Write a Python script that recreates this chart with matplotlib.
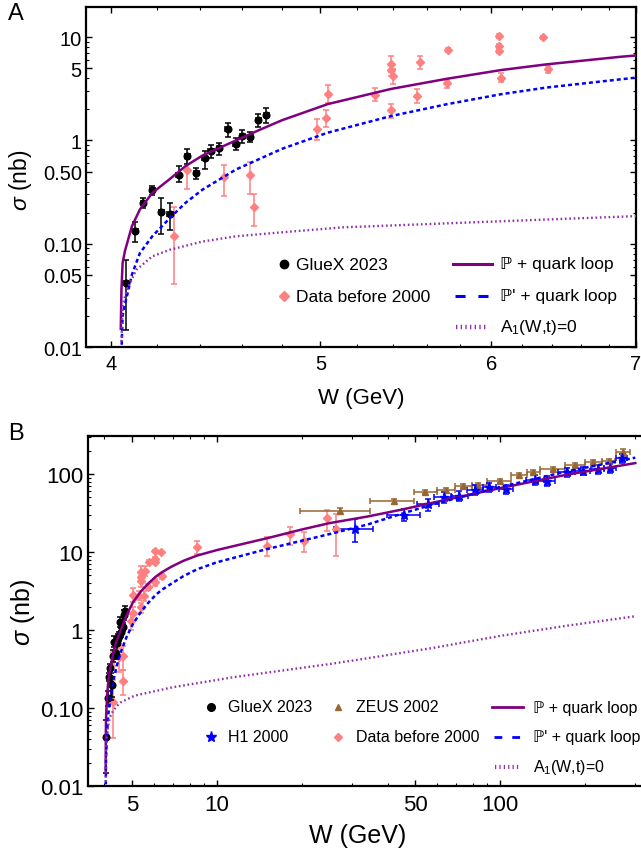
import matplotlib
matplotlib.use('Agg')
import matplotlib.pyplot as plt
from matplotlib.lines import Line2D
from matplotlib.ticker import FixedLocator, NullFormatter, FixedFormatter

plt.rcParams['font.family'] = ['Liberation Sans', 'DejaVu Sans']
plt.rcParams['mathtext.fontset'] = 'custom'
plt.rcParams['mathtext.rm'] = 'Liberation Sans'
plt.rcParams['mathtext.it'] = 'Liberation Sans:italic'
plt.rcParams['mathtext.bf'] = 'Liberation Sans:bold'

# ---------------- data ----------------
# GlueX 2023
glx_W = [4.063, 4.106, 4.14, 4.18, 4.22, 4.26, 4.30, 4.34, 4.38, 4.42, 4.45, 4.49,
         4.53, 4.57, 4.60, 4.64, 4.68, 4.72]
glx_sig = [0.042, 0.134, 0.248, 0.329, 0.203, 0.195, 0.468, 0.705, 0.485, 0.679, 0.787,
           0.836, 1.28, 0.93, 1.10, 1.09, 1.57, 1.76]
glx_lo = [0.0275, 0.029, 0.026, 0.035, 0.078, 0.058, 0.074, 0.108, 0.06, 0.15, 0.11,
          0.11, 0.19, 0.12, 0.16, 0.13, 0.22, 0.28]
glx_hi = [0.028, 0.030, 0.030, 0.035, 0.075, 0.055, 0.094, 0.13, 0.06, 0.12, 0.11,
          0.11, 0.19, 0.12, 0.16, 0.13, 0.22, 0.28]
glx_Werr = [0.012] * 18

# Data before 2000
old_W = [4.28, 4.34, 4.51, 4.64, 4.66, 4.98, 5.03, 5.04, 5.30, 5.39, 5.39, 5.40, 5.39,
         5.54, 5.56, 5.72, 5.73, 6.05, 6.05, 6.05, 6.06, 6.34, 6.37,
         8.47, 15.0, 18.1, 20.3, 24.4, 26.2]
old_sig = [0.118, 0.523, 0.445, 0.465, 0.225, 1.30, 1.66, 2.84, 2.76, 5.5, 4.8, 4.25, 1.97,
           2.69, 5.75, 3.57, 7.53, 10.3, 8.23, 7.36, 4.07, 9.93, 4.89,
           11.5, 12.0, 17.0, 14.0, 27.0, 19.7]
old_lo = [0.077, 0.181, 0.155, 0.16, 0.078, 0.30, 0.30, 0.55, 0.35, 0.9, 0.6, 0.7, 0.31,
          0.37, 0.78, 0.32, 0.3, 0.4, 0.4, 0.4, 0.38, 0.4, 0.35,
          2.0, 3.1, 4.7, 4.1, 8.3, 10.9]
old_hi = [0.109, 0.132, 0.135, 0.152, 0.081, 0.30, 0.31, 0.60, 0.43, 1.1, 0.6, 0.7, 0.27,
          0.44, 0.83, 0.28, 0.3, 0.4, 0.4, 0.4, 0.40, 0.4, 0.38,
          2.5, 3.4, 3.7, 3.9, 7.9, 10.9]

# ZEUS 2002
zeus_W = [27.2, 42.3, 54.4, 64.4, 73.8, 83.8, 99.5, 116.7, 131, 154, 184, 212.6, 243, 271]
zeus_sig = [33.9, 44.7, 58.2, 63, 69.5, 73, 82, 97, 105, 116, 130, 144, 146, 190]
zeus_Wlo = [7.6, 7.6, 4.6, 4.7, 4.4, 4.5, 9.7, 7.2, 6.6, 15.3, 14.5, 13.2, 15, 15]
zeus_Whi = [7.5, 7.5, 5.3, 5.0, 5.5, 6.0, 10.0, 7.7, 7.7, 15.5, 15.4, 15.4, 11, 17]
zeus_err = [2.5, 3.0, 3.5, 4, 4, 4.5, 5, 6, 6, 7, 8, 9, 10, 22]

# H1 2000
h1_W = [30.7, 45.8, 55.8, 63.1, 71.8, 81.6, 91.6, 104.8, 133, 146, 172, 196, 221, 245, 269]
h1_sig = [19.7, 30.1, 41.2, 50.2, 52.7, 63, 67.4, 64.2, 84.5, 82, 105, 110, 116, 118, 159]
h1_Werr = [4.9, 6.1, 5.0, 4.5, 5.0, 5.0, 5.0, 6.0, 10, 10, 12, 12, 12, 12, 12]
h1_err = [6.4, 5.2, 7.2, 8, 8, 9, 9, 9, 12, 12, 13, 14, 15, 15, 22]

# model curves
W_solid = [4.042, 4.045, 4.05, 4.06, 4.07, 4.09, 4.125, 4.18, 4.26, 4.33, 4.41, 4.57, 4.68,
           4.8, 5.04, 5.39, 5.72, 6.06, 6.36, 6.88, 7.6, 8.5, 10, 12, 15, 20, 25, 34, 45,
           58, 100, 172, 300]
sig_solid = [0.015, 0.036, 0.065, 0.085, 0.102, 0.147, 0.214, 0.31, 0.425, 0.563, 0.715,
             1.0, 1.25, 1.57, 2.25, 3.15, 3.95, 4.8, 5.45, 6.45, 7.7, 9.0, 10.6, 12.4,
             15.0, 19.5, 23.5, 28.5, 35.0, 43.0, 66.0, 98.0, 138.0]
W_dashed = [4.046, 4.05, 4.06, 4.07, 4.09, 4.125, 4.18, 4.26, 4.33, 4.41, 4.57, 4.8, 5.04,
            5.39, 5.72, 6.06, 6.36, 6.88, 7.6, 8.5, 10, 12, 15, 20, 25, 34, 45, 58, 100,
            172, 300]
sig_dashed = [0.0105, 0.02, 0.026, 0.032, 0.05, 0.081, 0.118, 0.178, 0.248, 0.334, 0.523,
              0.83, 1.19, 1.72, 2.24, 2.80, 3.25, 3.9, 4.9, 6.0, 7.4, 8.8, 10.9, 14.0, 17.0,
              22.5, 31.0, 41.0, 68.0, 108.0, 162.0]
W_dotted = [4.045, 4.05, 4.06, 4.074, 4.11, 4.18, 4.26, 4.41, 4.57, 4.8, 5.12, 6.06, 7.0,
            11.4, 25, 32, 58, 100, 172, 300]
sig_dotted = [0.0113, 0.0246, 0.031, 0.0385, 0.056, 0.0754, 0.0875, 0.105, 0.118, 0.129,
              0.144, 0.165, 0.185, 0.248, 0.366, 0.42, 0.59, 0.84, 1.135, 1.50]

# ---------------- styles ----------------
PURPLE = '#800080'
BLUE = '#0000FF'
DOT = '#9030A8'
PINK = '#FF8080'
BROWN = '#996633'

FW, FH = 641, 854
fig = plt.figure(figsize=(FW / 100, FH / 100), dpi=100)


def fx(px):
    return px / FW


def fy(py):
    return 1 - py / FH


axA = fig.add_axes([fx(86), fy(348), (636 - 86) / FW, (348 - 8) / FH])
axB = fig.add_axes([fx(88), fy(787), (647 - 88) / FW, (787 - 437) / FH])

eb = dict(elinewidth=1.1, capthick=1.1, capsize=2.3, linestyle='none')


def draw(ax):
    ax.errorbar(old_W, old_sig, yerr=[old_lo, old_hi], fmt='D', ms=4.2, color=PINK,
                ecolor=PINK, zorder=2, **eb)
    ax.errorbar(zeus_W, zeus_sig, xerr=[zeus_Wlo, zeus_Whi], yerr=zeus_err, fmt='^', ms=4.5,
                color=BROWN, ecolor=BROWN, zorder=2, **eb)
    ax.errorbar(h1_W, h1_sig, xerr=h1_Werr, yerr=h1_err, fmt='*', ms=6.5, color=BLUE,
                ecolor=BLUE, zorder=2, **eb)
    ax.errorbar(glx_W, glx_sig, xerr=glx_Werr, yerr=[glx_lo, glx_hi], fmt='o', ms=4.8,
                color='k', ecolor='k', zorder=3, **eb)
    ax.plot(W_solid, sig_solid, color=PURPLE, lw=1.8, zorder=4)
    ax.plot(W_dashed, sig_dashed, color=BLUE, lw=1.8, dashes=(1.6, 1.2), zorder=4)
    ax.plot(W_dotted, sig_dotted, color=DOT, lw=1.7, dashes=(0.7, 1.15), zorder=4)


for ax in (axA, axB):
    draw(ax)
    ax.set_xscale('log')
    ax.set_yscale('log')
    for s in ax.spines.values():
        s.set_linewidth(1.6)
    ax.tick_params(which='both', direction='in', top=True, right=True)
    ax.tick_params(which='major', length=4, width=1.0)
    ax.tick_params(which='minor', length=2.3, width=0.8)

# Panel A axes
axA.set_xlim(3.895, 7.0)
axA.set_ylim(0.01, 19.6)
axA.xaxis.set_major_locator(FixedLocator([4, 5, 6, 7]))
axA.xaxis.set_major_formatter(FixedFormatter(['4', '5', '6', '7']))
axA.xaxis.set_minor_locator(FixedLocator([4.2, 4.4, 4.6, 4.8, 5.2, 5.4, 5.6, 5.8,
                                          6.2, 6.4, 6.6, 6.8]))
axA.xaxis.set_minor_formatter(NullFormatter())
axA.yaxis.set_major_locator(FixedLocator([0.01, 0.05, 0.1, 0.5, 1, 5, 10]))
axA.yaxis.set_major_formatter(FixedFormatter(['0.01', '0.05', '0.10', '0.50', '1', '5', '10']))
minA = [k * 10.0 ** e for e in (-2, -1, 0, 1) for k in (2, 3, 4, 6, 7, 8, 9)]
axA.yaxis.set_minor_locator(FixedLocator([v for v in minA if v < 19.6]))
axA.yaxis.set_minor_formatter(NullFormatter())
axA.tick_params(which='major', axis='x', labelsize=14.5, pad=5)
axA.tick_params(which='major', axis='y', labelsize=14.5, pad=3)

# Panel B axes
axB.set_xlim(3.5, 330)
axB.set_ylim(0.01, 307)
axB.xaxis.set_major_locator(FixedLocator([5, 10, 50, 100]))
axB.xaxis.set_major_formatter(FixedFormatter(['5', '10', '50', '100']))
axB.xaxis.set_minor_locator(FixedLocator([4, 6, 7, 8, 9, 20, 30, 40, 60, 70, 80, 90, 200, 300]))
axB.xaxis.set_minor_formatter(NullFormatter())
axB.yaxis.set_major_locator(FixedLocator([0.01, 0.1, 1, 10, 100]))
axB.yaxis.set_major_formatter(FixedFormatter(['0.01', '0.10', '1', '10', '100']))
minB = [k * 10.0 ** e for e in (-2, -1, 0, 1, 2) for k in (2, 3, 4, 5, 6, 7, 8, 9)]
axB.yaxis.set_minor_locator(FixedLocator([v for v in minB if v < 307]))
axB.yaxis.set_minor_formatter(NullFormatter())
axB.tick_params(which='major', axis='x', labelsize=16, pad=6)
axB.tick_params(which='major', axis='y', labelsize=16, pad=3.5)

# axis labels
axA.set_xlabel('W (GeV)', fontsize=16)
axA.xaxis.set_label_coords(fx(361), fy(399), transform=fig.transFigure)
axA.xaxis.label.set_va('center')
axA.set_ylabel(r'$\sigma$ (nb)', fontsize=16.5)
axA.yaxis.set_label_coords(fx(21), fy(180), transform=fig.transFigure)
axA.yaxis.label.set_va('center')

axB.set_xlabel('W (GeV)', fontsize=18)
axB.xaxis.set_label_coords(fx(358), fy(836), transform=fig.transFigure)
axB.xaxis.label.set_va('center')
axB.set_ylabel(r'$\sigma$ (nb)', fontsize=18)
axB.yaxis.set_label_coords(fx(23), fy(612), transform=fig.transFigure)
axB.yaxis.label.set_va('center')

fig.text(fx(8), fy(3), 'A', fontsize=17, va='top', ha='left')
fig.text(fx(8), fy(423), 'B', fontsize=17, va='top', ha='left')


# ---------------- legends ----------------
def leg_marker(px, py, **kw):
    fig.add_artist(Line2D([fx(px)], [fy(py)], transform=fig.transFigure, linestyle='none', **kw))


def leg_line(x0, x1, py, **kw):
    fig.add_artist(Line2D([fx(x0), fx(x1)], [fy(py), fy(py)], transform=fig.transFigure, **kw))


def leg_text(px, py, s, size):
    fig.text(fx(px), fy(py), s, fontsize=size, va='center', ha='left')


# Panel A legend
LA = 12.5
leg_marker(284, 265, marker='o', ms=6, color='k')
leg_text(296, 265, 'GlueX 2023', LA)
leg_marker(284, 297, marker='D', ms=5, color=PINK)
leg_text(296, 297, 'Data before 2000', LA)
leg_line(453, 492, 265, color=PURPLE, lw=2.2)
leg_text(500, 265, 'ℙ + quark loop', LA)
leg_line(455, 488, 297, color=BLUE, lw=2.2, dashes=(3.3, 4.2))
leg_text(500, 297, "ℙ' + quark loop", LA)
leg_line(456, 488, 328, color=DOT, lw=3.2, dashes=(0.3, 0.75))
leg_text(500, 328, 'A$_1$(W,t)=0', LA)

# Panel B legend
LB = 11.5
leg_marker(211, 708, marker='o', ms=5.5, color='k')
leg_text(228, 708, 'GlueX 2023', LB)
leg_marker(211, 738, marker='*', ms=8, color=BLUE)
leg_text(228, 738, 'H1 2000', LB)
leg_marker(338, 708, marker='^', ms=5, color=BROWN)
leg_text(356, 708, 'ZEUS 2002', LB)
leg_marker(338, 738, marker='D', ms=4.5, color=PINK)
leg_text(356, 738, 'Data before 2000', LB)
leg_line(492, 523, 708, color=PURPLE, lw=2.0)
leg_text(533, 708, 'ℙ + quark loop', LB)
leg_line(494, 521, 738, color=BLUE, lw=2.0, dashes=(2.8, 3.6))
leg_text(533, 738, "ℙ' + quark loop", LB)
leg_line(495, 521, 768, color=DOT, lw=3.0, dashes=(0.3, 0.75))
leg_text(533, 768, 'A$_1$(W,t)=0', LB)

fig.savefig('out.png', dpi=100)
